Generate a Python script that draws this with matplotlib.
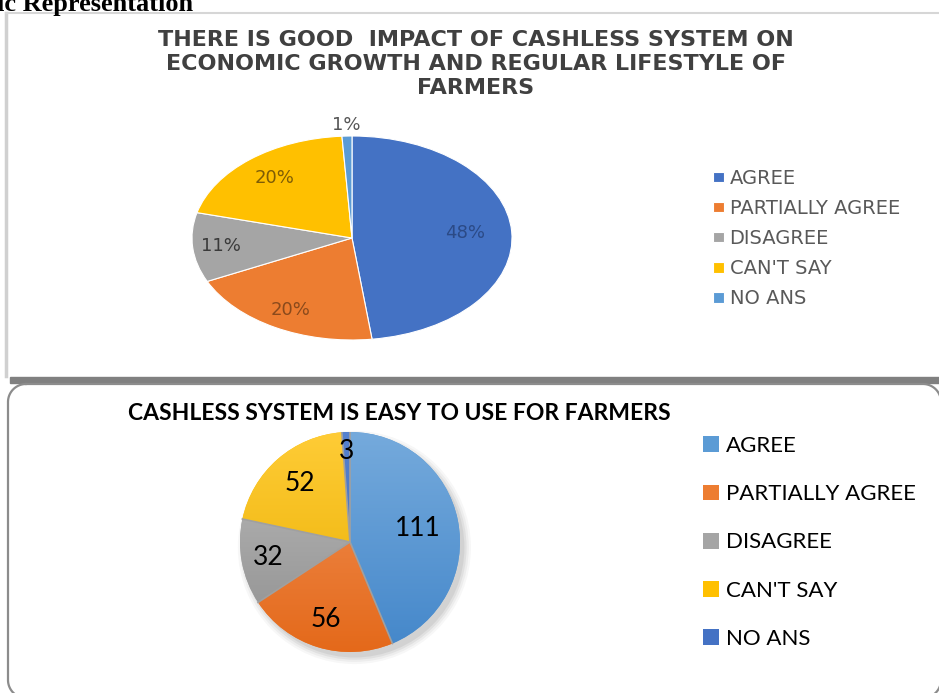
import matplotlib
matplotlib.use('Agg')
import matplotlib.pyplot as plt
import numpy as np
from matplotlib.patches import Circle, Rectangle
from matplotlib.colors import LinearSegmentedColormap

W, H = 939, 693

# chart data
categories = ['AGREE', 'PARTIALLY AGREE', 'DISAGREE', "CAN'T SAY", 'NO ANS']
impact_pct = [48, 20, 11, 20, 1]
easy_counts = [111, 56, 32, 52, 3]

heading = 'ic Representation'
top_title = ('THERE IS GOOD  IMPACT OF CASHLESS SYSTEM ON\n'
             'ECONOMIC GROWTH AND REGULAR LIFESTYLE OF\n'
             'FARMERS')
bottom_title = 'CASHLESS SYSTEM IS EASY TO USE FOR FARMERS'

# styles
top_colors = ['#4472c4', '#ed7d31', '#a5a5a5', '#ffc000', '#5b9bd5']
top_label_colors = ['#2b4a86', '#8a4a1c', '#3a3a3a', '#7d5c06', '#555555']
top_label_dist = [0.71, 0.80, 0.82, 0.76, 1.11]
bottom_colors = ['#5b9bd5', '#ed7d31', '#a5a5a5', '#ffc000', '#4472c4']
bottom_grad = [('#4487ca', '#75aadc'), ('#e4691a', '#f2935a'), ('#8e8e8e', '#bcbcbc'),
               ('#e8ae00', '#ffcc36'), ('#3d68b6', '#5682cf')]
bottom_label_dist = [0.63, 0.74, 0.76, 0.70, 0.82]


def box(x0, y0, x1, y1):
    # pixel box (top-left origin) -> figure fraction rect
    return [x0 / W, 1 - y1 / H, (x1 - x0) / W, (y1 - y0) / H]


def rounded_outline(x0, y0, x1, y1, r):
    # outline of a rounded rectangle in pixel coords (y pointing down)
    def arc(cx, cy, a0, a1):
        t = np.deg2rad(np.linspace(a0, a1, 24))
        return cx + r * np.cos(t), cy + r * np.sin(t)
    parts = [arc(x0 + r, y0 + r, 270, 180), arc(x0 + r, y1 - r, 180, 90),
             arc(x1 - r, y1 - r, 90, 0), arc(x1 - r, y0 + r, 0, -90)]
    xs = np.concatenate([p[0] for p in parts] + [[x0 + r]])
    ys = np.concatenate([p[1] for p in parts] + [[y0]])
    return xs, ys


fig = plt.figure(figsize=(W / 100, H / 100), dpi=100, facecolor='white')

# background axes in pixel units (top-left origin) for the panel frames
bg = fig.add_axes([0, 0, 1, 1])
bg.set_xlim(0, W)
bg.set_ylim(H, 0)
bg.axis('off')

bg.text(-3, 11, heading, family='Liberation Serif', fontweight='bold',
        fontsize=19, va='baseline', ha='left', color='black')

# upper chart frame + thick divider bar
bg.plot([6, 6], [13, 376], color='#d0d0d0', lw=2.5)
bg.plot([6, W], [13, 13], color='#d6d6d6', lw=1.5)
bg.add_patch(Rectangle((10, 377), W - 10, 6, color='#808080'))

# rounded frame of the lower chart
fx, fy = rounded_outline(8, 384, 941, 698, 18)
bg.plot(fx, fy, color='#8c8c8c', lw=1.6, clip_on=False)

# ---------- upper chart ----------
bg.text(476, 30, top_title, ha='center', va='top', fontweight='bold',
        color='#404040', family='DejaVu Sans', fontsize=16, linespacing=1.25)

ax1 = fig.add_axes(box(192, 136, 512, 340))
wedges1, _ = ax1.pie(impact_pct, colors=top_colors, startangle=90, counterclock=False,
                     wedgeprops=dict(edgecolor='white', linewidth=0.8))
ax1.set_aspect('auto')
ax1.set_xlim(-1, 1)
ax1.set_ylim(-1, 1)
for w, v, d, c in zip(wedges1, impact_pct, top_label_dist, top_label_colors):
    ang = np.deg2rad((w.theta1 + w.theta2) / 2)
    ax1.text(d * np.cos(ang), d * np.sin(ang), f'{v}%', ha='center', va='center',
             family='DejaVu Sans', fontsize=13, color=c, clip_on=False)

ax1.legend(wedges1, categories, loc='upper left', bbox_to_anchor=(713 / W, 1 - 169 / H),
           bbox_transform=fig.transFigure, frameon=False, labelcolor='#595959',
           prop=dict(family='DejaVu Sans', size=14), handlelength=0.55, handleheight=0.45,
           handletextpad=0.3, labelspacing=0.57, borderpad=0, borderaxespad=0)

# ---------- lower chart ----------
bg.text(399, 414, bottom_title, ha='center', va='center', fontweight='bold',
        color='black', family='Lato', fontsize=16.5)

ax2 = fig.add_axes(box(240, 432, 460, 652))
# soft shadow under the pie
for r, a in zip([1.06, 1.04, 1.02, 1.0], [0.03, 0.04, 0.05, 0.06]):
    ax2.add_patch(Circle((0.04, -0.05), r, facecolor='black', edgecolor='none',
                         alpha=a, zorder=0, clip_on=False))
wedges2, _ = ax2.pie(easy_counts, colors=bottom_colors, startangle=90, counterclock=False,
                     wedgeprops=dict(edgecolor='none', zorder=2))
grad = np.linspace(0, 1, 256).reshape(-1, 1)
for w, (c0, c1) in zip(wedges2, bottom_grad):
    cmap = LinearSegmentedColormap.from_list('g', [c0, c1])
    im = ax2.imshow(grad, cmap=cmap, origin='lower', extent=(-1, 1, -1, 1),
                    aspect='auto', zorder=2.5)
    im.set_clip_path(w)
# grey separators between slices
for w in wedges2:
    a = np.deg2rad(w.theta1)
    ax2.plot([0, np.cos(a)], [0, np.sin(a)], color='#a0a0a0', lw=1.2, zorder=3)
ax2.set_aspect('auto')
ax2.set_xlim(-1, 1)
ax2.set_ylim(-1, 1)
ax2.axis('off')
for w, v, d in zip(wedges2, easy_counts, bottom_label_dist):
    ang = np.deg2rad((w.theta1 + w.theta2) / 2)
    ax2.text(d * np.cos(ang), d * np.sin(ang), str(v), ha='center', va='center',
             family='Lato', fontsize=19, color='black', zorder=5, clip_on=False)

ax2.legend(wedges2, categories, loc='upper left', bbox_to_anchor=(703 / W, 1 - 436 / H),
           bbox_transform=fig.transFigure, frameon=False, labelcolor='black',
           prop=dict(family='Lato', size=16), handlelength=0.72, handleheight=0.72,
           handletextpad=0.3, labelspacing=1.27, borderpad=0, borderaxespad=0)

fig.savefig('out.png', dpi=100)
